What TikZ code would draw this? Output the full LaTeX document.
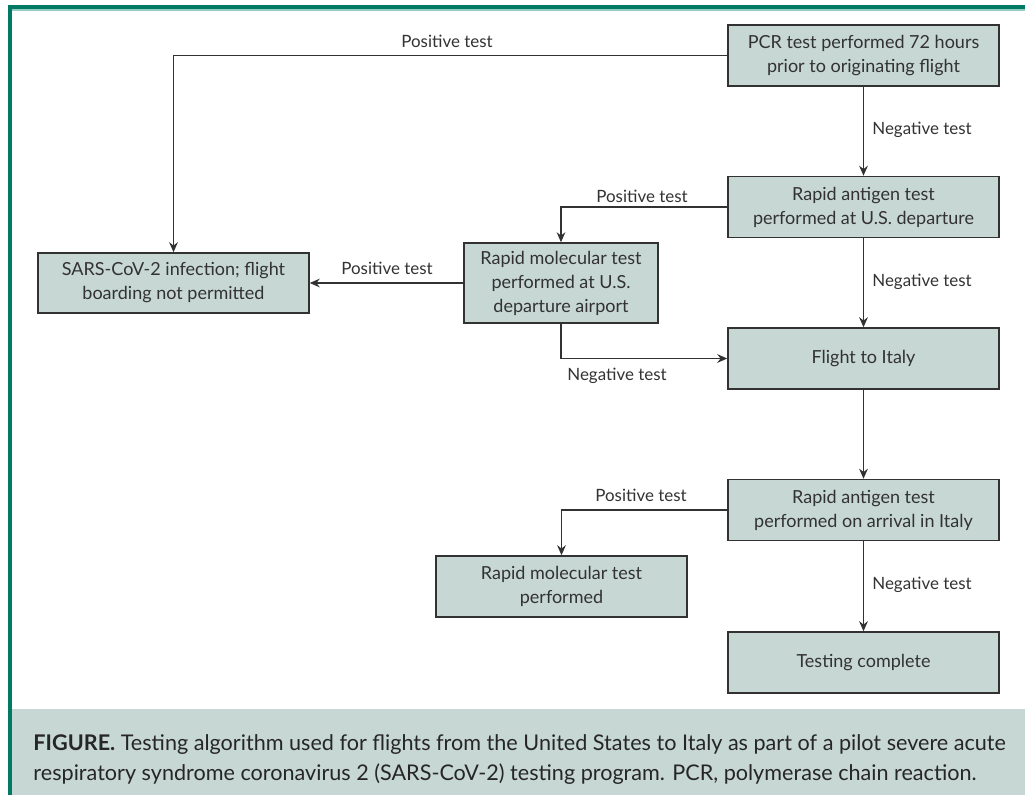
\documentclass[tikz,border=0pt]{standalone}
\usepackage{fontspec}
\setmainfont{Lato}
\usetikzlibrary{arrows.meta}

\definecolor{boxfill}{RGB}{199,215,211}
\definecolor{framegreen}{RGB}{0,122,100}
\definecolor{framelight}{RGB}{150,205,192}
\definecolor{inkgray}{RGB}{50,50,50}

\tikzset{every picture/.style={line width=0.75pt}}
\tikzset{
  stepbox/.style={draw=inkgray, line width=1.1pt, fill=boxfill, align=center, text=inkgray,
    inner sep=0pt, minimum width=203.25pt, minimum height=45.75pt, font=\fontsize{13.5}{18}\selectfont},
  flow/.style={draw=inkgray, line width=1pt, -{Stealth[length=7.5pt,width=6.5pt]}},
  flowlabel/.style={text=inkgray, inner sep=0pt, font=\fontsize{12.7}{14}\selectfont}
}

\begin{document}
\begin{tikzpicture}[x=0.75pt,y=0.75pt,yscale=-1,xscale=1]
	\useasboundingbox (0,0) rectangle (1025,795);

	%Shape: Frame and caption band
	\fill [boxfill] (12,709) rectangle (1025,795);
	\draw [framelight, line width=1.5pt] (12,10.5) -- (1025,10.5);
	\draw [framegreen, line width=3pt] (8,7) -- (1025,7);
	\draw [framegreen, line width=3pt] (10,5) -- (10,795);

	%Shape: Boxes
	\node [stepbox] (pcr) at (863.5,55.5) {PCR test performed 72 hours\\prior to originating flight};
	\node [stepbox] (antigendep) at (863.5,207) {Rapid antigen test\\performed at U.S. departure};
	\node [stepbox, minimum width=145.5pt, minimum height=60pt] (moldep) at (561,283) {Rapid molecular test\\performed at U.S.\\departure airport};
	\node [stepbox, minimum height=45pt] (sars) at (173.5,283) {SARS-CoV-2 infection; flight\\boarding not permitted};
	\node [stepbox] (flight) at (863.5,358.5) {Flight to Italy};
	\node [stepbox] (antigenarr) at (863.5,510) {Rapid antigen test\\performed on arrival in Italy};
	\node [stepbox, minimum width=188.25pt] (molperf) at (561.5,586.5) {Rapid molecular test\\performed};
	\node [stepbox] (done) at (863.5,662.5) {Testing complete};

	%Straight Lines
	\draw [flow] (pcr.west) -| (sars.north);
	\draw [flow] (pcr.south) -- (antigendep.north);
	\draw [flow] (antigendep.west) -| (moldep.north);
	\draw [flow] (moldep.west) -- (sars.east);
	\draw [flow] (moldep.south) |- (flight.west);
	\draw [flow] (antigendep.south) -- (flight.north);
	\draw [flow] (flight.south) -- (antigenarr.north);
	\draw [flow] (antigenarr.west) -| (molperf.north);
	\draw [flow] (antigenarr.south) -- (done.north);

	% Text Node
	\node [flowlabel] (pos1) at (447,41) {Positive test};
	% Text Node
	\node [flowlabel] (neg1) at (922,130) {Negative test};
	% Text Node
	\node [flowlabel] (pos2) at (642,196) {Positive test};
	% Text Node
	\node [flowlabel] (pos3) at (387,268) {Positive test};
	% Text Node
	\node [flowlabel] (neg2) at (922,282) {Negative test};
	% Text Node
	\node [flowlabel] (neg3) at (617,376) {Negative test};
	% Text Node
	\node [flowlabel] (pos4) at (641,495) {Positive test};
	% Text Node
	\node [flowlabel] (neg4) at (922,585) {Negative test};

	% Text Node
	\node [anchor=west, align=left, inner sep=0pt, text=black!85, font=\fontsize{16.2}{22.5}\selectfont] (caption) at (33,760)
	  {\textbf{FIGURE.} Testing algorithm used for flights from the United States to Italy as part of a pilot severe acute\\
	   respiratory syndrome coronavirus 2 (SARS-CoV-2) testing program. PCR, polymerase chain reaction.};
\end{tikzpicture}
\end{document}
